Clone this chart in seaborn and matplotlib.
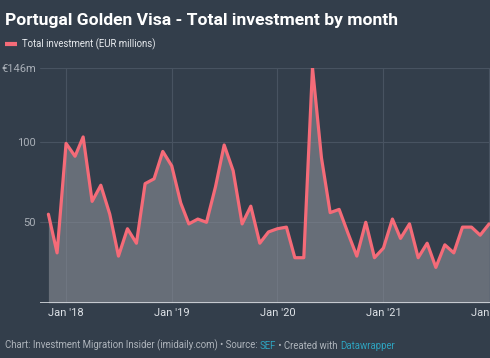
# Portugal Golden Visa - total investment by month (area chart)
import matplotlib.pyplot as plt
import matplotlib.dates as mdates
import pandas as pd
import seaborn as sns

# data (EUR millions), Nov 2017 - Jan 2022
months = pd.date_range("2017-11-01", "2022-01-01", freq="MS")
investment = [55, 31,
              99, 91, 103, 63, 73, 55, 29, 46, 37, 74, 77, 94,
              85, 62, 49, 52, 50, 72, 98, 82, 49, 60, 37, 44,
              46, 47, 28, 28, 146, 90, 56, 58, 43, 29, 50, 28,
              34, 52, 40, 49, 28, 37, 22, 36, 31, 47, 47, 42,
              49]
y_ticks = [50, 100, 146]
y_labels = ["50", "100", "€146m"]
x_ticks = pd.to_datetime(["2018-01-01", "2019-01-01", "2020-01-01", "2021-01-01", "2022-01-01"])
x_labels = ["Jan '18", "Jan '19", "Jan '20", "Jan '21", "Jan '22"]

df = pd.DataFrame({"month": months, "investment": investment})

bg = "#333e4b"
line_col = "#f56b78"

sns.set_style("dark")
plt.rcParams["font.family"] = ["Roboto", "DejaVu Sans"]

fig = plt.figure(figsize=(4.9, 3.58), dpi=100, facecolor=bg)
ax = fig.add_axes([40 / 490, 1 - 302.8 / 358, 450 / 490, (302.8 - 67.7) / 358])
ax.set_facecolor(bg)

# area + line
ax.fill_between(df["month"], df["investment"], color="#8a8f97", alpha=0.6, lw=0, zorder=2)
sns.lineplot(data=df, x="month", y="investment", color=line_col, linewidth=2.3, ax=ax, zorder=3)

ax.set_ylim(0, 146)
ax.set_xlim(pd.Timestamp("2017-10-03"), pd.Timestamp("2022-01-04"))

ax.set_yticks(y_ticks)
ax.set_yticklabels(y_labels, color="#a9afb7", fontsize=8)
ax.set_xticks(x_ticks)
ax.set_xticklabels(x_labels, color="#dde1e6", fontsize=8)
ax.tick_params(axis="both", length=0, pad=4)
ax.tick_params(axis="y", pad=3)

ax.grid(True, color="#485361", linewidth=0.8, zorder=0)
ax.axhline(0, color="#d8dce1", linewidth=1.2, zorder=4)
for s in ax.spines.values():
    s.set_visible(False)
ax.set_xlabel("")
ax.set_ylabel("")

# title and legend
fig.text(5 / 490, 1 - 25 / 358, "Portugal Golden Visa - Total investment by month",
         color="white", fontsize=12.6, fontweight="bold", va="baseline")
fig.add_artist(plt.Line2D([5 / 490, 17 / 490], [1 - 44 / 358] * 2, color=line_col,
                          linewidth=3, solid_capstyle="butt"))
fig.text(22 / 490, 1 - 44 / 358, "Total investment (EUR millions)",
         color="#e6e9ed", fontsize=6.9, va="center")

# footer with coloured links
grey = "#aeb4bb"
teal = "#2ea3bf"
parts = [("Chart: Investment Migration Insider (imidaily.com) • Source: ", grey),
         ("SEF", teal), (" • Created with ", grey), ("Datawrapper", teal)]
prev = fig.text(5 / 490, 1 - 348 / 358, parts[0][0], color=parts[0][1], fontsize=6.9, va="baseline")
for txt, col in parts[1:]:
    prev = ax.annotate(txt, xy=(1, 0), xycoords=prev, va="bottom", ha="left",
                       color=col, fontsize=6.9, annotation_clip=False)

fig.savefig("out.png", dpi=100, facecolor=bg)
